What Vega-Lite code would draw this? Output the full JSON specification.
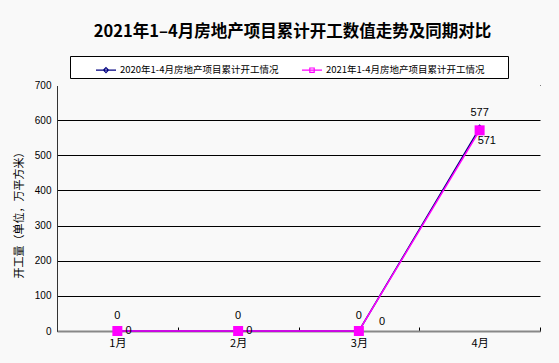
{
  "$schema": "https://vega.github.io/schema/vega-lite/v6.json",
  "autosize": "none",
  "width": 483,
  "height": 246,
  "padding": {"left": 57, "top": 85, "right": 19, "bottom": 32},
  "background": "#f9f9f9",
  "config": {"view": {"stroke": null}, "font": "Noto Sans CJK SC"},
  "title": {"text": "2021年1–4月房地产项目累计开工数值走势及同期对比", "font": "Noto Sans CJK SC", "fontSize": 16.5, "fontWeight": "bold", "color": "#000000", "anchor": "middle", "offset": 15, "dx": -6},
  "data": {"values": [
    {"month": "1月", "series": "2020年1-4月房地产项目累计开工情况", "value": 0},
    {"month": "2月", "series": "2020年1-4月房地产项目累计开工情况", "value": 0},
    {"month": "3月", "series": "2020年1-4月房地产项目累计开工情况", "value": 0},
    {"month": "4月", "series": "2020年1-4月房地产项目累计开工情况", "value": 577},
    {"month": "1月", "series": "2021年1-4月房地产项目累计开工情况", "value": 0},
    {"month": "2月", "series": "2021年1-4月房地产项目累计开工情况", "value": 0},
    {"month": "3月", "series": "2021年1-4月房地产项目累计开工情况", "value": 0},
    {"month": "4月", "series": "2021年1-4月房地产项目累计开工情况", "value": 571}
  ]},
  "encoding": {
    "x": {"field": "month", "type": "ordinal", "scale": {"paddingInner": 0, "paddingOuter": 0}, "sort": ["1月", "2月", "3月", "4月"],
      "axis": {"title": null, "labelAngle": 0, "labelFont": "Noto Sans CJK SC", "labelFontSize": 11, "labelColor": "#000000", "labelPadding": 10, "domainColor": "#888888", "domainWidth": 2, "tickColor": "#000000", "tickSize": -4, "tickBand": "extent", "grid": false}},
    "y": {"field": "value", "type": "quantitative", "scale": {"domain": [0, 700]},
      "axis": {"title": "开工量（单位，万平方米）", "titleFont": "Noto Sans CJK SC", "titleFontSize": 11, "titleFontWeight": "normal", "titleColor": "#000000", "titlePadding": 10, "titleY": 127, "values": [0, 100, 200, 300, 400, 500, 600, 700], "labelFont": "Liberation Sans", "labelFontSize": 10, "labelColor": "#000000", "labelPadding": 6, "domainColor": "#333333", "ticks": false, "grid": true, "gridColor": "#000000", "gridWidth": 1, "gridOpacity": 1}}
  },
  "layer": [
    {"mark": {"type": "rule", "color": "#f9f9f9", "strokeWidth": 2}, "encoding": {"y": {"datum": 700}, "x": null}},
    {"mark": {"type": "line", "strokeWidth": 1.5},
      "encoding": {"color": {"field": "series", "type": "nominal", "scale": {"range": ["#000080", "#ff00ff"]},
        "legend": {"title": " ", "titleOrient": "right", "titlePadding": 21, "orient": "none", "legendX": 13, "legendY": -29, "direction": "horizontal", "strokeColor": "#000000", "fillColor": "#ffffff", "padding": 3, "columnPadding": 0, "labelFont": "Noto Sans CJK SC", "labelFontSize": 9.5, "labelColor": "#000000", "labelOffset": 3, "symbolSize": 400, "symbolStrokeWidth": 1.2, "labelLimit": 300, "symbolOffset": 22,
          "encode": {"symbols": {"update": {"shape": {"signal": "indexof(datum.label, '2020') == 0 ? 'M-1,0H1M0,-0.25L0.25,0L0,0.25L-0.25,0Z' : 'M-1,0H1M-0.22,-0.22H0.22V0.22H-0.22Z'"}}}}}}}},
    {"mark": {"type": "point", "shape": "diamond", "filled": true, "size": 60, "opacity": 1, "color": "#000080"},
      "transform": [{"filter": "datum.series == '2020年1-4月房地产项目累计开工情况'"}]},
    {"mark": {"type": "square", "filled": true, "size": 100, "opacity": 1, "color": "#ff00ff"},
      "transform": [{"filter": "datum.series == '2021年1-4月房地产项目累计开工情况'"}]},
    {"mark": {"type": "text", "dy": -15, "fontSize": 11, "font": "Liberation Sans", "color": "#000000"},
      "transform": [{"filter": "datum.series == '2020年1-4月房地产项目累计开工情况'"}],
      "encoding": {"text": {"field": "value"}}},
    {"mark": {"type": "text", "dx": 8, "align": "left", "baseline": "middle", "fontSize": 11, "font": "Liberation Sans", "color": "#000000"},
      "transform": [{"filter": "datum.series == '2021年1-4月房地产项目累计开工情况' && datum.value == 0 && datum.month != '3月'"}],
      "encoding": {"text": {"field": "value"}}},
    {"mark": {"type": "text", "dx": 20, "dy": -9, "align": "left", "baseline": "middle", "fontSize": 11, "font": "Liberation Sans", "color": "#000000"},
      "transform": [{"filter": "datum.series == '2021年1-4月房地产项目累计开工情况' && datum.month == '3月'"}],
      "encoding": {"text": {"field": "value"}}},
    {"mark": {"type": "text", "dx": -2, "dy": 11, "align": "left", "baseline": "middle", "fontSize": 11, "font": "Liberation Sans", "color": "#000000"},
      "transform": [{"filter": "datum.series == '2021年1-4月房地产项目累计开工情况' && datum.value > 0"}],
      "encoding": {"text": {"field": "value"}}}
  ]
}
